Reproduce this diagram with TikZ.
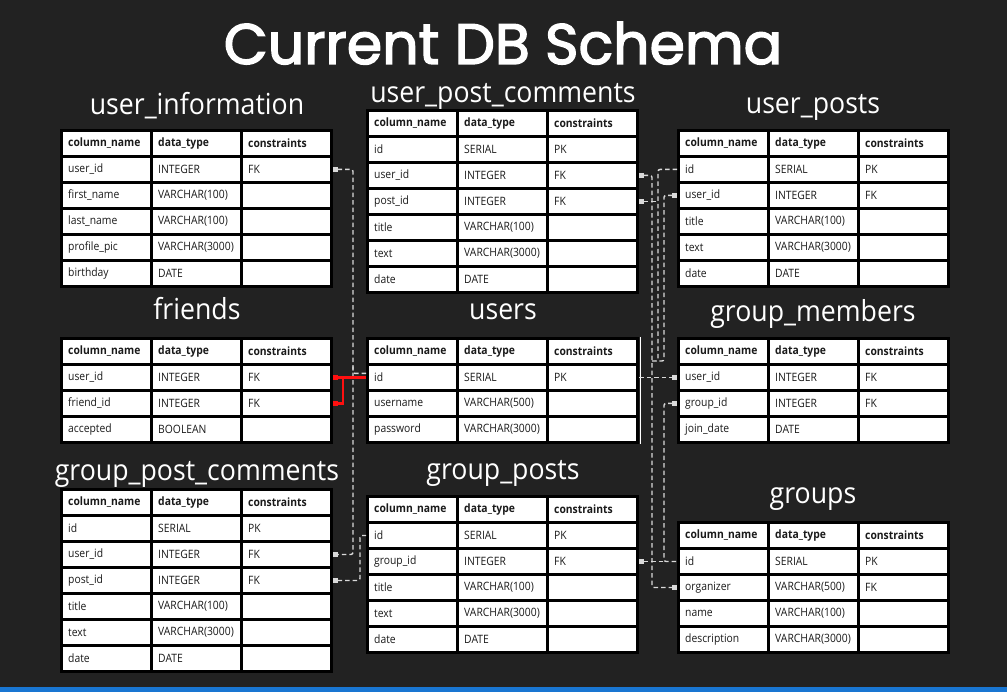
\documentclass[tikz,border=0pt]{standalone}
\usepackage{fontspec}
\usetikzlibrary{arrows.meta,calc}
\newfontfamily\cellfont{Open Sans}[FakeStretch=0.9]
\newfontfamily\headfont{Open Sans}[FakeStretch=0.92]
\newfontfamily\bigfont{Poppins}[FakeBold=2.5]
\definecolor{bg}{HTML}{222222}
\definecolor{conncol}{HTML}{DADADA}
\definecolor{stripe}{HTML}{1976D2}
\definecolor{fkred}{HTML}{FF1010}
\definecolor{celltext}{HTML}{1A1A1A}
\tikzset{
  tblbox/.style={fill=black, inner sep=0pt, anchor=north west, minimum width=273pt},
  cellbox/.style={fill=white, anchor=north west, inner xsep=5pt, inner ysep=0pt,
    minimum height=22.5pt, text width=77pt, align=left, text=celltext,
    font=\cellfont\fontsize{11.5}{13}\selectfont},
  headcell/.style={cellbox, font=\cellfont\bfseries\fontsize{11.5}{13}\selectfont},
  ttl/.style={text=white, font=\headfont\fontsize{29}{34}\selectfont, inner sep=0pt, anchor=base},
  conn/.style={draw=conncol, line width=1.4pt, dash pattern=on 4.5pt off 3pt, rounded corners=2pt},
  fkstart/.style={conn, {Square[length=5pt,width=5pt]}-},
  fkend/.style={conn, -{Square[length=5pt,width=5pt]}},
  fkboth/.style={conn, {Square[length=5pt,width=5pt]}-{Square[length=5pt,width=5pt]}},
  redline/.style={draw=fkred, line width=2.2pt},
  redfk/.style={redline, {Square[length=5pt,width=5pt]}-},
}
\newcommand\dbtable[5]{%
  \node[tblbox, minimum height={(#4+1)*26pt+2.5pt}] (#1) at (#2,#3) {};
  \node[headcell] (#1-0-1) at ({#2+3},{#3+3}) {column\_name};
  \node[headcell] (#1-0-2) at ({#2+93},{#3+3}) {data\_type};
  \node[headcell] (#1-0-3) at ({#2+183},{#3+3}) {constraints};
  \foreach \a/\b/\c [count=\i] in {#5} {
    \node[cellbox] (#1-\i-1) at ({#2+3},{#3+3+26*\i}) {\a};
    \node[cellbox] (#1-\i-2) at ({#2+93},{#3+3+26*\i}) {\b};
    \node[cellbox] (#1-\i-3) at ({#2+183},{#3+3+26*\i}) {\c};
  }%
}
\begin{document}
\begin{tikzpicture}[x=1pt,y=-1pt]
\fill[bg] (0,0) rectangle (1007,692);
\useasboundingbox (0,0) rectangle (1007,692);
\fill[stripe] (0,687) rectangle (1007,692);

\node[text=white, font=\bigfont\fontsize{57}{62}\selectfont, inner sep=0pt, anchor=base] (title) at (503,64) {Current DB Schema};

\node[ttl] (t-ui) at (197,115) {user\_information};
\node[ttl] (t-upc) at (503,103) {user\_post\_comments};
\node[ttl] (t-up) at (813,114) {user\_posts};
\node[ttl] (t-fr) at (197,320) {friends};
\node[ttl] (t-us) at (503,320) {users};
\node[ttl] (t-gm) at (813,322) {group\_members};
\node[ttl] (t-gpc) at (197,481) {group\_post\_comments};
\node[ttl] (t-gp) at (503,479) {group\_posts};
\node[ttl] (t-gr) at (813,503) {groups};

\dbtable{ui}{60}{129}{5}{user\_id/INTEGER/FK, first\_name/VARCHAR(100)/{}, last\_name/VARCHAR(100)/{}, profile\_pic/VARCHAR(3000)/{}, birthday/DATE/{}}
\dbtable{upc}{366}{109}{6}{id/SERIAL/PK, user\_id/INTEGER/FK, post\_id/INTEGER/FK, title/VARCHAR(100)/{}, text/VARCHAR(3000)/{}, date/DATE/{}}
\dbtable{up}{677}{129}{5}{id/SERIAL/PK, user\_id/INTEGER/FK, title/VARCHAR(100)/{}, text/VARCHAR(3000)/{}, date/DATE/{}}
\dbtable{fr}{60}{337}{3}{user\_id/INTEGER/FK, friend\_id/INTEGER/FK, accepted/BOOLEAN/{}}
\dbtable{us}{366}{337}{3}{id/SERIAL/PK, username/VARCHAR(500)/{}, password/VARCHAR(3000)/{}}
\dbtable{gm}{677}{337}{3}{user\_id/INTEGER/FK, group\_id/INTEGER/FK, join\_date/DATE/{}}
\dbtable{gpc}{60}{488}{6}{id/SERIAL/PK, user\_id/INTEGER/FK, post\_id/INTEGER/FK, title/VARCHAR(100)/{}, text/VARCHAR(3000)/{}, date/DATE/{}}
\dbtable{gp}{366}{495}{5}{id/SERIAL/PK, group\_id/INTEGER/FK, title/VARCHAR(100)/{}, text/VARCHAR(3000)/{}, date/DATE/{}}
\dbtable{gr}{677}{521}{4}{id/SERIAL/PK, organizer/VARCHAR(500)/FK, name/VARCHAR(100)/{}, description/VARCHAR(3000)/{}}

% thin white edge right of users
\draw[white, line width=1pt] ($(us.north east)+(1.5,0)$) -- ($(us.south east)+(1.5,0)$);

% bus x positions
\coordinate (bl) at (353,0);
\coordinate (bl2) at (360,0);
\coordinate (rb1) at (652,0);
\coordinate (rb2) at (658,0);
\coordinate (rb3) at (664,0);
\coordinate (rj) at (0,361);
\coordinate (rl) at (343,0);

% left connectors
\draw[fkboth] (ui.east |- ui-1-1) -| (bl |- gpc-2-1) -- (gpc.east |- gpc-2-1);
\draw[conn] ($(us.west |- us-1-1)+(0,-4)$) -| ($(bl |- us-1-1)+(0,-11)$);
\draw[fkstart] (gpc.east |- gpc-3-1) -| (bl2 |- gp-1-1) -- (gp.west |- gp-1-1);
\draw[redfk] (fr.east |- fr-2-1) -| (rl |- fr-1-1);
\draw[redfk] (fr.east |- fr-1-1) -- (us.west |- us-1-1);

% right connectors
\draw[fkboth] (upc.east |- upc-2-1) -| (rb1 |- gr-2-1) -- (gr.west |- gr-2-1);
\draw[fkend] (us.east |- us-1-1) -- (gm.west |- gm-1-1);
\draw[conn] (up.west |- up-1-1) -| (rb2 |- rj) -- (rb1 |- rj);
\draw[fkstart] (up.west |- up-2-1) -| (rb3 |- rj) -- (rb2 |- rj);
\draw[fkstart] (upc.east |- upc-3-1) -- (rb2 |- upc-3-1);
\draw[fkstart] (gm.west |- gm-2-1) -| (rb3 |- gr-1-1) -- (gr.west |- gr-1-1);
\draw[fkstart] (gp.east |- gp-2-1) -- (rb3 |- gp-2-1);
\end{tikzpicture}
\end{document}
